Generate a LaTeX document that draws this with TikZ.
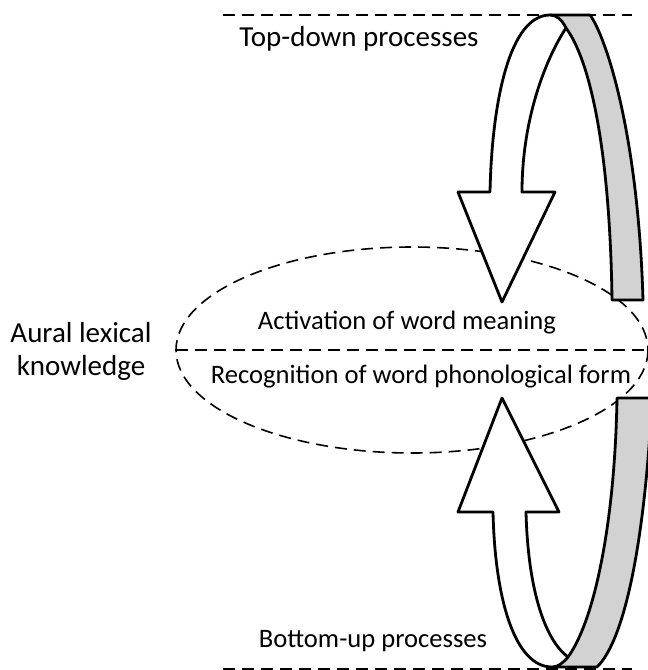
\documentclass[tikz,border=0pt]{standalone}
\usepackage{fontspec}
\setmainfont{Carlito}
\usetikzlibrary{positioning}
\definecolor{bandgray}{RGB}{210,210,210}
\tikzset{
    dash line/.style = {dash pattern=on 6pt off 3.5pt, line width=0.8pt},
    ribbon/.style = {line width=1.4pt, line join=round},
    label text/.style = {font=\fontsize{14.5}{16.5}\selectfont, anchor=base, inner sep=0pt},
    small text/.style = {label text, font=\fontsize{13.3}{16}\selectfont},
}

\begin{document}
\begin{tikzpicture}[x=0.5pt,y=-0.5pt]
\useasboundingbox (0,0) rectangle (648,670);
\clip (0,0) rectangle (648,670);

\draw[dash line] (223,15) -- (632,15);
\draw[dash line] (223,669) -- (632,669);
\draw[dash line] (412,350) ellipse [x radius=236, y radius=103];
\draw[dash line] (176,350) -- (648,350);

\filldraw[ribbon, fill=bandgray] (550,15) -- (590,15) .. controls (605,35) and (638,130) .. (643,300)
    -- (612,300) .. controls (610,150) and (590,60) .. (566,28) -- cycle;
\filldraw[ribbon, fill=white] (458,192) -- (490,192) .. controls (492,100) and (510,15) .. (550,15)
    .. controls (557,15) and (562,20) .. (566,28) .. controls (545,60) and (522,120) .. (522,192)
    -- (555,192) -- (502,302) -- cycle;

\filldraw[ribbon, fill=bandgray] (552,667) -- (597,667) .. controls (625,640) and (645,540) .. (652,398)
    -- (617,398) .. controls (615,520) and (595,620) .. (568,657) -- cycle;
\filldraw[ribbon, fill=white] (458,512) -- (502,398) -- (559,512) -- (526,512)
    .. controls (528,590) and (545,640) .. (568,657) .. controls (563,663) and (558,667) .. (552,667)
    .. controls (515,667) and (495,600) .. (493,512) -- cycle;

\node[label text] (topdown) at (359,46) {Top-down processes};
\node[small text] (bottomup) at (373,647) {Bottom-up processes};
\node[small text] (meaning) at (407,329) {Activation of word meaning};
\node[small text] (form) at (421,383) {Recognition of word phonological form};
\node[label text, align=center, anchor=north] (aural) at (81,322) {Aural lexical\\knowledge};
\end{tikzpicture}
\end{document}
